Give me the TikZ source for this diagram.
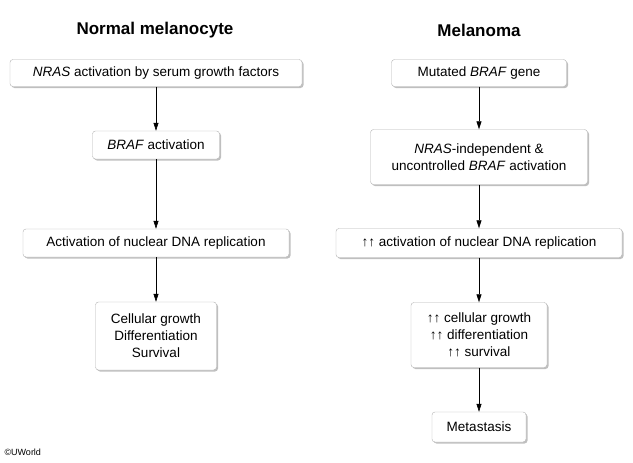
\documentclass[tikz,border=0pt]{standalone}
\usepackage{fontspec}
\setmainfont{Liberation Sans}
\usetikzlibrary{shadows,arrows.meta}

\begin{document}
\begin{tikzpicture}[x=1pt, y=-1pt,
    box/.style = {draw=black!30, fill=white, rounded corners=3pt, align=center,
      font=\fontsize{13.5}{17}\selectfont, inner xsep=6pt, inner ysep=4pt,
      drop shadow={shadow xshift=1.5pt, shadow yshift=-1.5pt, opacity=0.5}},
    title/.style = {font=\fontsize{17}{20}\selectfont\bfseries},
    arr/.style = {-{Triangle[length=8pt,width=5pt]}, semithick}]
    \useasboundingbox (0,0) rectangle (633,463);
    % left column
    \node[title] (t1) at (155,30) {Normal melanocyte};
    \node[box, minimum width=292pt, minimum height=27pt] (1) at (156,73) {\textit{NRAS} activation by serum growth factors};
    \node[box, minimum width=127pt, minimum height=28pt] (2) at (156,145) {\textit{BRAF} activation};
    \node[box, minimum width=266pt, minimum height=28pt] (3) at (156,243) {Activation of nuclear DNA replication};
    \node[box, minimum width=121pt, minimum height=68pt] (4) at (156,336) {Cellular growth\\Differentiation\\Survival};
    % right column
    \node[title] (t2) at (479,30) {Melanoma};
    \node[box, minimum width=175pt, minimum height=27pt] (a) at (479,73) {Mutated \textit{BRAF} gene};
    \node[box, minimum width=217pt, minimum height=55pt] (b) at (479,157) {\textit{NRAS}-independent \&\\uncontrolled \textit{BRAF} activation};
    \node[box, minimum width=286pt, minimum height=29pt] (c) at (479,243) {↑↑ activation of nuclear DNA replication};
    \node[box, minimum width=136pt, minimum height=65pt] (d) at (479,335) {↑↑ cellular growth\\↑↑ differentiation\\↑↑ survival};
    \node[box, minimum width=94pt, minimum height=30pt] (e) at (479,427) {Metastasis};
    \node[anchor=west, font=\fontsize{9}{11}\selectfont] (cr) at (1,452) {©UWorld};
    \draw[arr] (1.south -| 2.north) -- (2.north);
    \draw[arr] (2.south) -- (2.south |- 3.north);
    \draw[arr] (2.south |- 3.south) -- (2.south |- 4.north);
    \draw[arr] (a.south) -- (a.south |- b.north);
    \draw[arr] (a.south |- b.south) -- (a.south |- c.north);
    \draw[arr] (a.south |- c.south) -- (a.south |- d.north);
    \draw[arr] (a.south |- d.south) -- (a.south |- e.north);
\end{tikzpicture}
\end{document}
